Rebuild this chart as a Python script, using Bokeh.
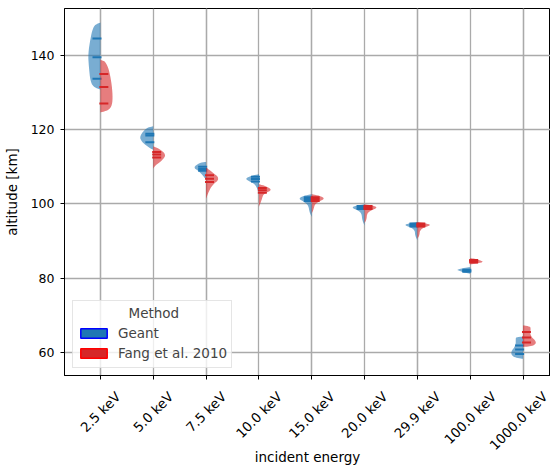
import numpy as np
from bokeh.plotting import figure
from bokeh.models import (FixedTicker, Legend, LegendItem, Range1d, LinearAxis, Grid,
                          CustomJSTickFormatter)
from bokeh.embed import file_html
from bokeh.resources import INLINE

categories = ["2.5 keV", "5.0 keV", "7.5 keV", "10.0 keV", "15.0 keV",
              "20.0 keV", "29.9 keV", "100.0 keV", "1000.0 keV"]
y_ticks = [60, 80, 100, 120, 140]

# Geant: violin outline (altitude, relative density) per category
geant_alt = [
    [148.8, 148.3, 147.2, 144.5, 140.4, 137.3, 132.8, 131.3, 130.8],
    [120.9, 120.6, 119.8, 118.0, 116.8, 116.2, 114.9, 114.6],
    [111.3, 111.0, 109.8, 108.9, 108.2, 107.2, 106.5],
    [108.0, 107.6, 106.8, 106.0, 105.3, 104.0, 103.0],
    [102.6, 102.2, 101.4, 100.6, 99.6, 97.8, 96.5],
    [99.9, 99.6, 99.0, 98.2, 97.4, 95.6, 94.2],
    [95.1, 94.8, 94.3, 93.6, 92.8, 91.5, 90.2],
    [83.0, 82.8, 82.3, 81.9, 81.5, 81.2],
    [64.3, 64.1, 63.7, 61.9, 60.1, 59.0, 58.5, 58.3],
]
geant_dens = [
    [0, 5, 7.7, 10, 12.3, 11.7, 10, 6, 0],
    [0, 5, 9.4, 13.7, 11.5, 9.4, 2.7, 0],
    [0, 7, 12.7, 8, 5, 2, 0],
    [0, 7, 14, 9, 4, 1.5, 0],
    [0, 8, 13.3, 8, 3.3, 2.3, 0],
    [0, 8, 13.3, 6, 3, 2.3, 0],
    [0, 8, 13.3, 6, 2.5, 2.3, 0],
    [0, 5, 14, 10, 6, 0],
    [0, 7, 7.3, 7.3, 12.3, 10.7, 6, 0],
]
geant_quart = [
    [133.7, 139.5, 144.5],
    [116.6, 118.4, 118.9],
    [108.9, 109.4, 110.0],
    [106.0, 106.7, 107.3],
    [100.8, 101.3, 101.8],
    [98.6, 99.0, 99.4],
    [93.9, 94.3, 94.7],
    [81.7, 82.0, 82.3],
    [59.6, 60.8, 61.9],
]

# Fang et al. 2010
fang_alt = [
    [138.8, 138.5, 138.2, 136.4, 132.8, 129.2, 126.5, 125.2, 124.6],
    [115.5, 114.9, 113.3, 111.7, 110.4, 109.5],
    [109.8, 108.6, 106.8, 105.0, 103.2, 101.4],
    [105.3, 104.8, 103.8, 102.8, 102.3, 101.0, 99.2],
    [102.6, 102.2, 101.4, 100.6, 99.8, 98.5, 97.4],
    [99.9, 99.6, 99.0, 98.2, 97.4, 95.8, 94.8],
    [95.1, 94.8, 94.3, 93.6, 92.8, 91.5, 90.6],
    [85.4, 85.2, 84.8, 84.4, 84.0, 83.7],
    [67.3, 67.0, 66.4, 64.6, 62.8, 61.9, 61.6, 61.5],
]
fang_dens = [
    [0, 3, 5, 8.3, 11, 12.3, 11.7, 8, 0],
    [0, 5.7, 13, 9, 2.3, 0],
    [0, 6, 14, 6, 2.5, 0],
    [0, 7, 13.3, 6, 4, 2.7, 0],
    [0, 8, 13.3, 7, 3, 1.8, 0],
    [0, 8, 13.3, 6, 2.5, 2, 0],
    [0, 8, 14, 6, 2.5, 2, 0],
    [0, 5, 10, 13.3, 8, 0],
    [0, 7, 7.7, 7, 13.7, 11, 6, 0],
]
fang_quart = [
    [127.0, 131.5, 135.0],
    [112.5, 113.3, 114.0],
    [105.9, 106.8, 107.7],
    [103.0, 103.7, 104.3],
    [100.8, 101.3, 101.8],
    [98.6, 99.0, 99.4],
    [93.9, 94.3, 94.7],
    [84.2, 84.6, 84.9],
    [62.7, 64.0, 65.5],
]

FRAME_W = 486
X_START, X_END = -0.68, 8.52
PX_PER_CAT = FRAME_W / (X_END - X_START)
DENS_SCALE = 1 / PX_PER_CAT
BLUE = "#1f77b4"
RED = "#d62728"
FONT = "DejaVu Sans"
TICK_FS = 13.3
LABEL_FS = "13.5px"

# approximate DejaVu Sans advance widths (em) for rotated tick-label centring
CHAR_W = {"0": .636, "1": .636, "2": .636, "3": .636, "4": .636, "5": .636,
          "6": .636, "7": .636, "8": .636, "9": .636, ".": .318, " ": .318,
          "k": .579, "e": .615, "V": .684}


def chaikin(xs, ys, n=2):
    pts = np.column_stack([xs, ys]).astype(float)
    for _ in range(n):
        new = [pts[0]]
        for a, b in zip(pts[:-1], pts[1:]):
            new.append(0.75 * a + 0.25 * b)
            new.append(0.25 * a + 0.75 * b)
        new.append(pts[-1])
        pts = np.array(new)
    return pts[:, 0], pts[:, 1]


p = figure(frame_width=FRAME_W, frame_height=367, output_backend="svg", toolbar_location=None,
           x_range=Range1d(X_START, X_END), y_range=Range1d(53.8, 152.6),
           x_axis_location=None,
           min_border_left=56, min_border_right=0, min_border_top=8,
           min_border_bottom=80)

for side, alts, dens, quarts, col in [(-1, geant_alt, geant_dens, geant_quart, BLUE),
                                       (1, fang_alt, fang_dens, fang_quart, RED)]:
    pxs, pys = [], []
    for i in range(len(categories)):
        w, a = chaikin(np.array(dens[i]) * DENS_SCALE, alts[i])
        xs = list(i + side * w) + [i, i]
        ys = list(a) + [alts[i][-1], alts[i][0]]
        pxs.append(xs)
        pys.append(ys)
    p.patches(pxs, pys, fill_color=col, fill_alpha=0.6, line_color=col, line_alpha=0.0)
    x0, x1, yy = [], [], []
    for i in range(len(categories)):
        for q in quarts[i]:
            if side < 0:
                x0.append(i - 0.15); x1.append(i + 0.02)
            else:
                x0.append(i - 0.02); x1.append(i + 0.15)
            yy.append(q)
    p.segment(x0=x0, y0=yy, x1=x1, y1=yy, line_color=col, line_width=2)

# legend dummy renderers
rg = p.quad(left=[np.nan], right=[np.nan], top=[np.nan], bottom=[np.nan],
            fill_color=BLUE, line_color="blue", line_width=1.5)
rf = p.quad(left=[np.nan], right=[np.nan], top=[np.nan], bottom=[np.nan],
            fill_color=RED, line_color="red", line_width=1.5)
legend = Legend(items=[LegendItem(label="Geant", renderers=[rg]),
                       LegendItem(label="Fang et al. 2010", renderers=[rf])],
                location=(8, 7), title="\u00a0" * 12 + "Method",
                title_text_font=FONT, title_text_font_size=LABEL_FS, title_text_font_style="normal",
                title_standoff=2,
                label_text_font=FONT, label_text_font_size=LABEL_FS,
                glyph_width=33, glyph_height=12, label_height=20, spacing=0,
                label_standoff=8, padding=4, margin=0,
                border_line_color="#cccccc", background_fill_alpha=0.8)
p.add_layout(legend, "center")

# x axis: tick marks at the categories (minor ticks), labels anchored so that
# each rotated label's bounding box is centred on its category
label_pos = []
for i, c in enumerate(categories):
    L = sum(CHAR_W.get(ch, 0.6) for ch in c) * TICK_FS
    label_pos.append(i + L * 0.3536 / PX_PER_CAT)
xaxis = LinearAxis(ticker=FixedTicker(ticks=label_pos, minor_ticks=list(range(len(categories)))),
                   formatter=CustomJSTickFormatter(args=dict(labels=categories),
                                                   code="return labels[index];"))
xaxis.major_label_orientation = np.pi / 4
xaxis.major_tick_in = 0
xaxis.major_tick_out = 0
xaxis.minor_tick_in = 0
xaxis.minor_tick_out = 4
xaxis.minor_tick_line_color = "black"
xaxis.major_label_standoff = 15
xaxis.axis_label = "incident energy"
xaxis.axis_label_standoff = -12
p.add_layout(xaxis, "below")
p.add_layout(Grid(dimension=0, ticker=FixedTicker(ticks=list(range(len(categories))))))

p.yaxis.ticker = FixedTicker(ticks=y_ticks)
p.yaxis.axis_label = "altitude [km]"
p.yaxis.major_label_standoff = 6
p.yaxis.axis_label_standoff = 8
p.yaxis.major_tick_in = 0
p.yaxis.major_tick_out = 4
p.yaxis.minor_tick_line_color = None
for ax in (xaxis, p.yaxis[0]):
    ax.axis_label_text_font = FONT
    ax.axis_label_text_font_size = LABEL_FS
    ax.axis_label_text_font_style = "normal"
    ax.major_label_text_font = FONT
    ax.axis_line_color = "black"
    ax.major_label_text_color = "black"
    ax.axis_label_text_color = "black"
xaxis.major_label_text_font_size = f"{TICK_FS}px"
p.yaxis.major_label_text_font_size = "12.5px"
p.grid.grid_line_color = "#aaaaaa"
p.grid.grid_line_width = 1.3
p.outline_line_color = "black"
p.outline_line_alpha = 1.0

open("out.html", "w").write(file_html(p, INLINE))
